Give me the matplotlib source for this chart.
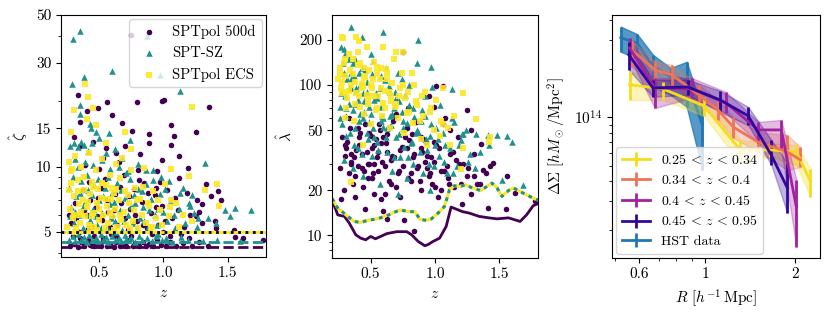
import numpy as np
import matplotlib
matplotlib.use("Agg")
import matplotlib.pyplot as plt
from matplotlib.ticker import FixedLocator, FixedFormatter, NullFormatter, FormatStrFormatter, LogLocator

plt.rcParams['font.family'] = 'serif'
plt.rcParams['font.serif'] = ['cmr10']
plt.rcParams['mathtext.fontset'] = 'cm'
plt.rcParams['axes.formatter.use_mathtext'] = True
plt.rcParams['font.size'] = 11

# cluster samples: redshift, SZ significance, richness
z_500d = [0.75, 0.329, 0.562, 0.791, 1.005, 0.99, 0.485, 0.60, 0.404, 0.349, 0.674, 0.757, 1.06, 1.252, 1.08,
          0.298, 0.89, 1.355, 1.06, 0.89, 1.12, 0.99, 1.19, 1.425, 1.45, 1.55, 1.62, 1.775, 1.56, 1.41,
          1.30, 1.21, 1.33, 0.35, 0.45, 0.55, 0.63, 0.70, 0.82, 0.95, 0.53,
          0.27, 0.30, 0.33, 0.36, 0.38, 0.41, 0.43, 0.46, 0.48, 0.51, 0.53, 0.56, 0.58, 0.61, 0.63, 0.66,
          0.68, 0.71, 0.73, 0.76, 0.78, 0.81, 0.84, 0.86, 0.89, 0.92, 0.95, 0.98, 1.02, 1.05, 1.10, 1.15,
          1.22, 1.28, 1.35,
          0.28, 0.31, 0.34, 0.37, 0.40, 0.42, 0.44, 0.47, 0.49, 0.52, 0.54, 0.57, 0.59, 0.62, 0.64, 0.67,
          0.69, 0.72, 0.74, 0.77, 0.79, 0.83, 0.85, 0.87, 0.90, 0.93, 0.96, 0.99, 1.03, 1.07, 1.11, 1.16,
          1.18, 1.25, 1.30, 1.40, 1.12, 0.65, 0.50, 0.39, 0.80, 0.94, 1.00, 0.60, 1.28, 1.37,
          0.26, 0.29, 0.32, 0.35, 0.38, 0.41, 0.43, 0.46, 0.48, 0.51, 0.53, 0.56, 0.58, 0.61, 0.63, 0.66,
          0.70, 0.73, 0.75, 0.78, 0.81, 0.84, 0.88, 0.91, 0.94, 0.97, 1.01, 1.05, 1.09, 1.14, 1.20, 1.26]
xi_500d = [40.4, 21.3, 19.9, 19.8, 20.3, 20.0, 18.6, 17.2, 18.0, 16.0, 15.9, 14.6, 15.5, 14.5, 13.8,
           13.7, 14.2, 18.8, 12.6, 12.8, 11.2, 10.7, 9.9, 7.7, 7.0, 5.1, 4.7, 4.6, 4.73, 5.2,
           5.5, 6.0, 8.3, 12.5, 13.0, 12.2, 11.5, 12.5, 11.4, 9.5, 11.0,
           4.3, 4.4, 4.28, 4.5, 4.3, 4.6, 4.35, 4.3, 4.45, 4.3, 4.55, 4.3, 4.4, 4.28, 4.5, 4.3,
           4.4, 4.3, 4.6, 4.32, 4.45, 4.3, 4.5, 4.3, 4.4, 4.3, 4.6, 4.35, 4.3, 4.5, 4.3, 4.45,
           4.3, 4.5, 4.3,
           5.5, 6.8, 5.0, 7.8, 6.0, 8.5, 5.3, 6.5, 7.2, 5.7, 8.8, 6.2, 4.9, 7.5, 5.4, 6.8,
           9.2, 5.1, 6.4, 7.9, 5.6, 6.9, 8.4, 5.2, 6.1, 7.4, 5.4, 6.6, 7.8, 5.8, 6.3, 5.3,
           7.6, 5.9, 6.7, 5.6, 8.9, 10.5, 9.8, 10.2, 9.7, 8.0, 5.0, 5.9, 6.2, 7.3,
           6.0, 4.8, 5.8, 4.7, 6.3, 5.2, 7.0, 4.8, 5.9, 8.0, 4.7, 7.0, 5.3, 6.3, 4.8, 8.1,
           5.8, 7.3, 4.8, 6.0, 8.7, 5.4, 7.6, 4.9, 6.5, 8.5, 5.6, 4.8, 7.2, 4.9, 4.7, 7.0]
lam_500d = [166, 60, 55, 70, 99, 72, 48, 45, 52, 35, 58, 50, 98, 67.8, 60,
            40, 45, 40.7, 55, 38, 35, 42, 30, 29, 30.5, 15.0, 19.2, 17, 25, 15.2,
            25, 16.3, 22, 30, 27, 33, 36, 64, 47, 85, 40,
            17.5, 34, 26, 22, 18, 40, 28, 15, 30, 24, 19, 36, 17.6, 29, 12.8, 22,
            33, 26, 18, 12.7, 38, 23, 10.7, 28, 20, 31, 25, 22, 18, 27, 24, 21,
            30, 19, 22,
            45, 38, 52, 33, 29, 48, 21, 36, 30, 26, 44, 50, 31, 41, 23, 34,
            62, 27, 39, 45, 24, 33, 57, 29, 36, 42, 26, 31, 38, 27, 22, 32,
            45, 25, 35, 26, 50, 53, 46, 37, 43, 34, 21, 14.6, 50, 27.3,
            28, 20, 42, 31, 25, 45, 35, 55, 24, 38, 30, 27, 41, 19, 47, 32,
            21, 37, 29, 52, 26, 35, 23, 44, 28, 33, 40, 20, 29, 36, 22, 28]

z_sz = [0.35, 0.293, 0.596, 0.376, 0.282, 0.972, 0.869, 1.13, 0.35, 0.35, 0.437, 0.43, 0.578, 1.322, 1.13,
        1.21, 1.557, 1.48, 1.68, 1.52, 1.413, 1.27, 1.22, 1.42, 1.60,
        0.27, 0.30, 0.33, 0.36, 0.38, 0.41, 0.44, 0.47, 0.50, 0.55, 0.62, 0.68, 0.74, 0.31, 0.39, 0.45,
        0.52, 0.58, 0.65, 0.72, 0.80, 0.86, 0.92, 0.98, 1.04,
        0.26, 0.28, 0.30, 0.32, 0.34, 0.36, 0.37, 0.39, 0.41, 0.43, 0.45, 0.46, 0.48, 0.50, 0.52, 0.54,
        0.56, 0.58, 0.60, 0.62, 0.64, 0.66, 0.68, 0.70, 0.72, 0.74, 0.76, 0.78, 0.80, 0.82, 0.84, 0.86,
        0.88, 0.90, 0.93, 0.95, 0.97, 1.00, 1.03, 1.06, 1.09, 1.12, 1.17, 1.20, 1.26, 1.35,
        0.26, 0.29, 0.31, 0.33, 0.36, 0.38, 0.40, 0.42, 0.44, 0.47, 0.49, 0.51, 0.53, 0.55, 0.57, 0.60,
        0.63, 0.65, 0.67, 0.70, 0.73, 0.75, 0.78, 0.81, 0.83, 0.87, 0.91, 0.94, 0.99, 1.02, 1.07, 1.14,
        1.19, 1.31, 0.96, 0.71,
        0.27, 0.29, 0.31, 0.33, 0.35, 0.37, 0.40, 0.42, 0.44, 0.47, 0.49, 0.51, 0.53, 0.57, 0.59, 0.61,
        0.63, 0.67, 0.69, 0.71, 0.75, 0.77, 0.79, 0.83, 0.85, 0.89, 0.92, 0.96, 1.01, 1.08, 1.15, 1.24]
xi_sz = [42.0, 38.7, 27.5, 25.9, 23.9, 26.3, 39.8, 22.2, 19.3, 17.5, 15.1, 15.8, 14.3, 10.4, 7.59,
         6.57, 6.45, 6.33, 6.33, 5.9, 5.53, 5.82, 7.4, 4.6, 4.55,
         12.5, 12.8, 12.3, 13.0, 12.6, 11.8, 12.9, 14.5, 13.5, 11.5, 12.0, 11.0, 13.2, 10.8, 10.5, 10.2,
         10.7, 9.8, 10.0, 9.5, 10.3, 9.6, 9.7, 9.0, 8.6,
         8.0, 6.5, 5.5, 7.3, 6.0, 8.6, 5.2, 6.9, 7.8, 5.7, 6.4, 8.2, 5.4, 7.0, 6.1, 8.0,
         5.3, 6.7, 7.6, 5.6, 8.4, 6.3, 5.1, 7.2, 6.0, 8.8, 5.5, 6.8, 7.9, 5.8, 6.5, 8.3,
         5.3, 7.1, 6.0, 5.4, 7.5, 6.2, 5.6, 7.0, 5.2, 6.4, 5.5, 6.8, 5.3, 5.8,
         4.6, 4.8, 4.55, 4.9, 4.6, 4.75, 4.5, 4.85, 4.6, 4.7, 4.55, 4.9, 4.6, 4.75, 4.5, 4.8,
         4.6, 4.7, 4.55, 4.85, 4.6, 4.7, 4.5, 4.8, 4.6, 4.7, 4.55, 4.8, 4.6, 4.7, 4.5, 4.75,
         4.6, 4.55, 4.9, 4.65,
         5.9, 9.0, 6.2, 10.0, 7.6, 6.5, 9.2, 6.0, 7.4, 5.9, 8.8, 5.2, 7.3, 9.0, 5.8, 6.9,
         5.0, 7.8, 5.6, 9.3, 6.6, 7.4, 5.2, 7.7, 5.6, 6.3, 8.7, 6.4, 7.9, 6.0, 8.0, 6.1]
lam_sz = [245, 175, 224, 150, 140, 132, 198, 94, 120, 110, 210, 130, 115, 47, 60,
          47, 46, 46.7, 21.7, 23.3, 46.7, 35, 47, 40, 42,
          180, 160, 95, 140, 75, 120, 88, 105, 160, 82, 130, 70, 110, 62, 95, 66,
          145, 58, 90, 78, 100, 140, 85, 97, 74,
          72, 55, 85, 110, 48, 68, 40, 92, 58, 35, 78, 125, 44, 64, 52, 88,
          37, 71, 60, 45, 98, 54, 33, 82, 47, 66, 39, 56, 74, 42, 61, 50,
          36, 68, 44, 30, 55, 40, 34, 48, 26, 38, 29, 43, 31, 36,
          60, 32, 46, 75, 28, 52, 38, 64, 25, 48, 57, 34, 80, 42, 22, 53,
          36, 62, 27, 45, 33, 58, 24, 41, 30, 49, 26, 37, 29, 44, 31, 26,
          40, 28, 20, 19,
          88, 120, 70, 150, 96, 115, 80, 100, 60, 90, 72, 118, 45, 95, 62, 108,
          52, 64, 90, 120, 52, 86, 33, 70, 48, 58, 62, 46, 52, 40, 57, 50]

z_ecs = [0.389, 0.41, 0.30, 0.45, 0.40, 1.219, 0.278, 0.70, 1.06, 1.20, 1.32, 1.42, 1.43, 1.06, 0.63,
         0.35, 0.26, 0.28, 0.31, 0.33, 0.36, 0.38, 0.42, 0.44, 0.47, 0.49, 0.52, 0.55, 0.58, 0.61,
         0.66, 0.68, 0.72, 0.75, 0.78, 0.82, 0.85, 0.88, 0.92, 0.97, 1.01, 1.10, 1.15,
         0.25, 0.27, 0.29, 0.30, 0.32, 0.34, 0.35, 0.37, 0.39, 0.40, 0.42, 0.43, 0.45, 0.46, 0.48, 0.50,
         0.51, 0.53, 0.54, 0.56, 0.57, 0.59, 0.60, 0.62, 0.64, 0.65, 0.67, 0.69, 0.71, 0.73, 0.76, 0.77,
         0.80, 0.83, 0.86, 0.89, 0.91, 0.94, 0.99, 1.04, 1.12, 1.22, 0.75, 0.55, 0.47, 0.283, 0.60, 0.44,
         0.26, 0.28, 0.30, 0.31, 0.33, 0.36, 0.38, 0.41, 0.43, 0.45, 0.48, 0.50, 0.52, 0.55, 0.58, 0.61,
         0.63, 0.66, 0.70, 0.74, 0.79, 0.84, 0.90, 0.96, 1.05]
xi_ecs = [23.9, 20.9, 18.3, 18.7, 16.6, 18.8, 14.4, 14.4, 9.8, 9.1, 7.8, 8.3, 6.6, 7.0, 10.3,
          6.0, 10.5, 9.5, 11.2, 8.7, 10.0, 9.0, 11.5, 8.5, 9.7, 7.9, 10.8, 8.2, 9.2, 7.6,
          8.9, 11.0, 7.4, 9.6, 8.0, 7.1, 9.9, 6.8, 7.7, 6.3, 8.3, 6.8, 6.0,
          5.3, 6.4, 5.8, 7.3, 5.2, 6.7, 5.5, 7.0, 5.9, 6.5, 5.4, 7.5, 6.1, 5.3, 6.8, 5.7,
          7.2, 6.0, 5.2, 6.6, 5.5, 7.1, 5.9, 6.4, 5.3, 7.0, 5.7, 6.2, 5.4, 6.8, 5.6, 6.3,
          5.2, 6.0, 5.5, 6.6, 5.3, 5.8, 5.4, 5.9, 5.3, 5.6, 12.0, 12.8, 15.5, 9.8, 8.0, 5.9,
          7.8, 8.4, 6.0, 5.0, 7.7, 6.2, 7.8, 6.9, 5.1, 8.1, 5.1, 6.4, 8.4, 7.1, 6.1, 5.1,
          7.9, 6.0, 7.7, 5.2, 7.0, 8.1, 5.2, 7.0, 6.5]
lam_ecs = [208, 197, 150, 130, 165, 88.5, 208, 166, 95.5, 27.8, 59.4, 42, 45, 55, 120,
           22.6, 130, 105, 90, 160, 118, 75, 140, 98, 86, 125, 110, 70, 130, 92,
           78, 150, 85, 100, 65, 120, 78, 58, 90, 70, 80, 52, 62,
           110, 95, 140, 60, 82, 125, 100, 58, 88, 135, 72, 102, 64, 115, 80, 55,
           95, 142, 68, 84, 110, 62, 76, 128, 90, 52, 104, 72, 60, 96, 48, 82,
           66, 56, 74, 44, 62, 40, 50, 46, 40, 38, 165, 120, 180, 207, 180, 40,
           120, 88, 115, 70, 92, 150, 105, 85, 95, 112, 75, 100, 85, 132, 95, 70,
           110, 85, 75, 120, 90, 100, 85, 66, 58]

# selection thresholds
xi_cut_500d = 4.27
xi_cut_sz = 4.5
xi_cut_ecs = 5.0

z_lam_500d = [0.2, 0.215, 0.245, 0.296, 0.334, 0.385, 0.423, 0.462, 0.50, 0.538, 0.577, 0.628, 0.704, 0.781,
              0.819, 0.87, 0.921, 0.946, 0.984, 1.036, 1.087, 1.125, 1.163, 1.214, 1.265, 1.342, 1.418,
              1.482, 1.571, 1.661, 1.711, 1.762, 1.8]
lam_min_500d = [16.3, 16.0, 13.7, 13.4, 12.1, 10.1, 9.6, 9.36, 9.85, 9.51, 9.85, 10.3, 10.6, 10.6,
                10.1, 9.12, 8.55, 8.7, 9.12, 9.6, 11.5, 15.45, 15.0, 14.4, 14.1, 13.4, 13.1,
                12.9, 13.1, 12.4, 13.7, 15.75, 16.3]
z_lam_sz = [0.2, 0.207, 0.245, 0.309, 0.372, 0.423, 0.475, 0.525, 0.577, 0.64, 0.678, 0.73, 0.793, 0.844,
            0.883, 0.934, 0.972, 1.01, 1.074, 1.112, 1.151, 1.189, 1.24, 1.29, 1.355, 1.393, 1.443,
            1.482, 1.52, 1.571, 1.609, 1.661, 1.724, 1.775, 1.8]
lam_min_sz = [17.6, 17.3, 15.2, 13.7, 12.4, 12.2, 12.6, 12.8, 13.1, 13.7, 14.2, 14.8, 14.4, 14.4,
              12.8, 12.6, 12.9, 13.7, 15.6, 20.1, 21.4, 21.2, 21.7, 20.7, 19.9, 20.9, 22.3,
              20.7, 18.2, 19.9, 20.7, 19.6, 18.4, 17.5, 17.2]

# stacked lensing profiles, Delta Sigma in 1e14 h Msun / Mpc^2
bin_labels = [r'$0.25\,<\,z\,<\,0.34$', r'$0.34\,<\,z\,<\,0.4$',
              r'$0.4\,<\,z\,<\,0.45$', r'$0.45\,<\,z\,<\,0.95$']
bin_colors = ['#f6dc1f', '#ef7457', '#a2229e', '#31069a']
R_bins = [[0.558, 0.721, 0.990, 1.308, 1.649, 2.017, 2.248],
          [0.566, 0.677, 0.773, 0.952, 1.103, 1.239, 1.503, 1.881, 2.080],
          [0.558, 0.677, 0.902, 1.173, 1.503, 1.796, 2.017],
          [0.554, 0.667, 0.874, 1.120, 1.391, 1.662, 1.881]]
ds_bins = [[1.59, 1.50, 1.175, 0.627, 0.627, 0.61, 0.40],
           [2.62, 1.97, 1.83, 1.375, 1.11, 0.87, 0.70, 0.61, 0.543],
           [2.69, 1.52, 1.50, 1.227, 0.834, 0.834, 0.277],
           [2.44, 1.52, 1.54, 1.28, 1.02, 0.583, 0.364]]
ds_lo_bins = [[1.28, 1.28, 1.02, 0.52, 0.57, 0.506, 0.32],
              [2.05, 1.63, 1.59, 1.19, 0.962, 0.745, 0.61, 0.471, 0.49],
              [2.34, 1.14, 1.32, 1.06, 0.692, 0.627, 0.156],
              [1.97, 1.34, 1.375, 1.079, 0.896, 0.506, 0.254]]
ds_hi_bins = [[1.94, 1.66, 1.34, 0.723, 0.69, 0.673, 0.48],
              [3.0, 2.22, 2.11, 1.59, 1.28, 1.0, 0.81, 0.776, 0.655],
              [3.11, 1.75, 1.75, 1.435, 0.935, 0.962, 0.408],
              [2.94, 1.71, 1.71, 1.456, 1.159, 0.723, 0.520]]
R_hst = [0.521, 0.591, 0.668, 0.765, 0.866, 0.977]
ds_hst = [3.12, 2.88, 2.06, 1.79, 1.71, 0.896]
ds_hst_lo = [2.55, 2.32, 1.55, 1.375, 1.16, 0.47]
ds_hst_hi = [3.65, 3.28, 2.44, 2.02, 2.21, 1.11]

c_500d = '#440154'
c_sz = '#21918c'
c_ecs = '#fde725'

fig = plt.figure(figsize=(8.31, 3.16), dpi=100)
ax1 = fig.add_axes([0.0734, 0.187, 0.2467, 0.766])
ax2 = fig.add_axes([0.3995, 0.184, 0.2479, 0.769])
ax3 = fig.add_axes([0.7365, 0.184, 0.2503, 0.769])

# panel 1: xi vs z
ax1.scatter(z_500d, xi_500d, s=16, marker='o', color=c_500d, lw=0, label='SPTpol 500d')
ax1.scatter(z_sz, xi_sz, s=22, marker='^', color=c_sz, lw=0, label='SPT-SZ')
ax1.scatter(z_ecs, xi_ecs, s=17, marker='s', color=c_ecs, lw=0, alpha=0.9, label='SPTpol ECS')
ax1.axhline(xi_cut_500d, color=c_500d, ls='--', lw=2)
ax1.axhline(xi_cut_sz, color=c_sz, ls='--', lw=2)
ax1.axhline(xi_cut_ecs, color=c_ecs, lw=2)
ax1.axhline(xi_cut_ecs, color='k', ls=':', lw=2)
ax1.set_yscale('log')
ax1.set_xlim(0.2, 1.8)
ax1.set_ylim(3.84, 50)
ax1.yaxis.set_major_locator(FixedLocator([5, 10, 15, 30, 50]))
ax1.yaxis.set_major_formatter(FormatStrFormatter('%d'))
ax1.yaxis.set_minor_locator(FixedLocator([4, 6, 7, 8, 9, 20, 40]))
ax1.yaxis.set_minor_formatter(NullFormatter())
ax1.set_xlabel(r'$z$')
ax1.set_ylabel(r'$\hat\zeta$')
ax1.legend(loc='upper right', scatterpoints=1, borderaxespad=0.3, handletextpad=0.6, fontsize=10.5)

# panel 2: lambda vs z
ax2.scatter(z_500d, lam_500d, s=16, marker='o', color=c_500d, lw=0)
ax2.scatter(z_sz, lam_sz, s=22, marker='^', color=c_sz, lw=0)
ax2.scatter(z_ecs, lam_ecs, s=17, marker='s', color=c_ecs, lw=0, alpha=0.9)
ax2.plot(z_lam_500d, lam_min_500d, color=c_500d, lw=2)
ax2.plot(z_lam_sz, lam_min_sz, color=c_ecs, lw=2.2)
ax2.plot(z_lam_sz, lam_min_sz, color=c_sz, lw=2.2, ls=(0, (1.2, 1.5)))
ax2.set_yscale('log')
ax2.set_xlim(0.2, 1.8)
ax2.set_ylim(7.1, 293)
ax2.yaxis.set_major_locator(FixedLocator([10, 20, 50, 100, 200]))
ax2.yaxis.set_major_formatter(FormatStrFormatter('%d'))
ax2.yaxis.set_minor_locator(LogLocator(subs=np.arange(2, 10)))
ax2.yaxis.set_minor_formatter(NullFormatter())
ax2.set_xlabel(r'$z$')
ax2.set_ylabel(r'$\hat\lambda$')

for ax in (ax1, ax2):
    ax.xaxis.set_major_locator(FixedLocator([0.5, 1.0, 1.5]))
    ax.xaxis.set_major_formatter(FormatStrFormatter('%.1f'))

# panel 3: lensing profiles
for R, ds, lo, hi, col, lab in zip(R_bins, ds_bins, ds_lo_bins, ds_hi_bins, bin_colors, bin_labels):
    ds = np.array(ds) * 1e14
    lo = np.array(lo) * 1e14
    hi = np.array(hi) * 1e14
    ax3.fill_between(R, lo, hi, color=col, alpha=0.3, lw=1, zorder=2)
    ax3.errorbar(R, ds, yerr=[ds - lo, hi - ds], color=col, lw=2, elinewidth=2, label=lab, zorder=3)

hst = np.array(ds_hst) * 1e14
hst_lo = np.array(ds_hst_lo) * 1e14
hst_hi = np.array(ds_hst_hi) * 1e14
ax3.fill_between(R_hst, hst_lo, hst_hi, color='tab:blue', alpha=0.75, lw=1, zorder=1)
ax3.errorbar(R_hst, hst, yerr=[hst - hst_lo, hst_hi - hst], color='tab:blue', lw=2, elinewidth=2,
             label='HST data', zorder=1.5)

ax3.set_xscale('log')
ax3.set_yscale('log')
ax3.set_xlim(0.487, 2.42)
ax3.set_ylim(1.34e13, 4.32e14)
ax3.xaxis.set_major_locator(FixedLocator([0.6, 1, 2]))
ax3.xaxis.set_major_formatter(FixedFormatter(['0.6', '1', '2']))
ax3.xaxis.set_minor_locator(FixedLocator([0.5, 0.7, 0.8, 0.9]))
ax3.xaxis.set_minor_formatter(NullFormatter())
ax3.yaxis.set_minor_formatter(NullFormatter())
ax3.set_xlabel(r'$R\ [h^{-1}\,\mathrm{Mpc}]$')
ax3.set_ylabel(r'$\Delta\Sigma\ [h M_\odot/\mathrm{Mpc}^2]$')
ax3.legend(loc='lower left', borderaxespad=0.3, fontsize=10)

fig.savefig('out.png', dpi=100)
